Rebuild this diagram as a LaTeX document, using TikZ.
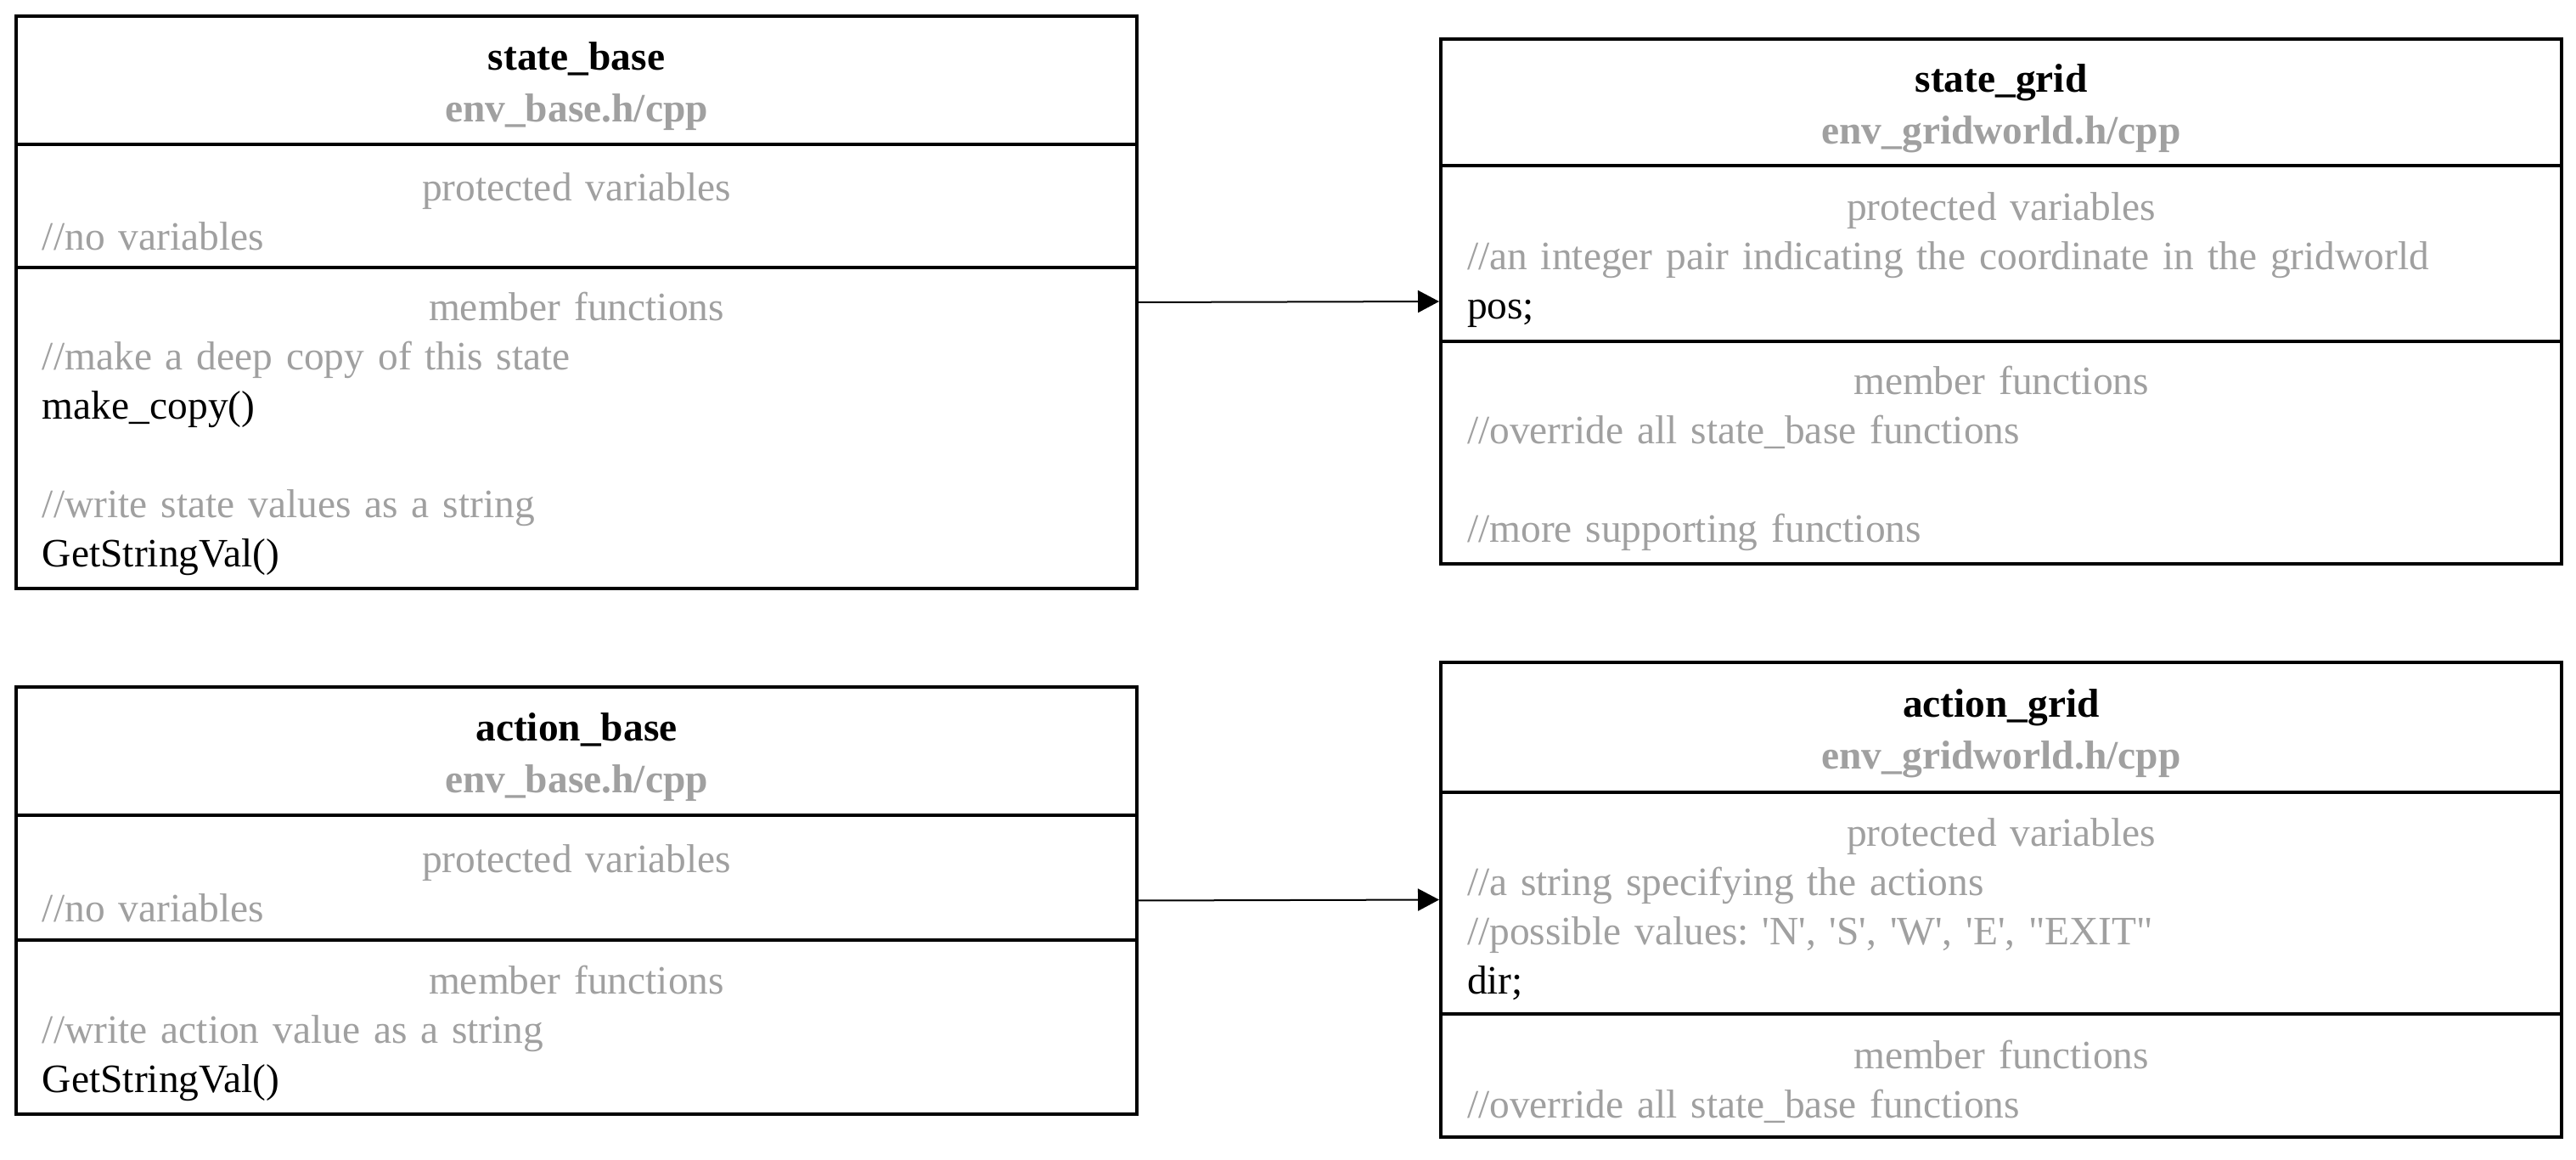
\documentclass[tikz,border=0pt]{standalone}
\usepackage{fontspec}
\setmainfont{Liberation Serif}[Ligatures=TeXOff]
\usepackage{xcolor}
\usepackage{tikz}
\usetikzlibrary{positioning,arrows.meta,fit}
\definecolor{txtGray}{RGB}{160,160,160}
\newcommand{\hdr}[1]{\makebox[\linewidth][c]{\color{txtGray}#1}}
\newcommand{\cmt}[1]{{\color{txtGray}#1}}
\frenchspacing

\begin{document}
\begin{tikzpicture}[
  ttl/.style={draw,line width=0.04cm,outer sep=0pt,minimum width=13.2cm,text width=12.58cm,inner xsep=0.31cm,align=center,font=\bfseries\fontsize{13.5}{17.5}\selectfont,execute at begin node={\rule{0pt}{13.5pt}}},
  sec/.style={draw,line width=0.04cm,outer sep=0pt,minimum width=13.2cm,text width=12.58cm,inner xsep=0.31cm,align=left,font=\fontsize{13.5}{16.5}\selectfont,execute at begin node={\rule{0pt}{13.5pt}}},
  cls/.style={inner sep=0pt,outer sep=0pt}]
\useasboundingbox (0,0) rectangle (30.34,-13.66);
% state_base
\node[ttl,minimum height=1.51cm,anchor=north west] (sbTtl) at (0.19,-0.19) {state\_base\\\textcolor{txtGray}{env\_base.h/cpp}};
\node[sec,minimum height=1.45cm,below=0pt of sbTtl] (sbVar) {\hdr{protected variables}\\\cmt{//no variables}};
\node[sec,minimum height=3.78cm,below=0pt of sbVar] (sbFun) {\hdr{member functions}\\\cmt{//make a deep copy of this state}\\make\_copy()\\~\\\cmt{//write state values as a string}\\GetStringVal()};
\node[cls,fit=(sbTtl)(sbFun)] (sbase) {};
% state_grid
\node[ttl,minimum height=1.49cm,anchor=north west] (sgTtl) at (16.97,-0.46) {state\_grid\\\textcolor{txtGray}{env\_gridworld.h/cpp}};
\node[sec,minimum height=2.07cm,below=0pt of sgTtl] (sgVar) {\hdr{protected variables}\\\cmt{//an integer pair indicating the coordinate in the gridworld}\\pos;};
\node[sec,minimum height=2.62cm,below=0pt of sgVar] (sgFun) {\hdr{member functions}\\\cmt{//override all state\_base functions}\\~\\\cmt{//more supporting functions}};
\node[cls,fit=(sgTtl)(sgFun)] (sgrid) {};
% action_base
\node[ttl,minimum height=1.51cm,anchor=north west] (abTtl) at (0.19,-8.09) {action\_base\\\textcolor{txtGray}{env\_base.h/cpp}};
\node[sec,minimum height=1.47cm,below=0pt of abTtl] (abVar) {\hdr{protected variables}\\\cmt{//no variables}};
\node[sec,minimum height=2.05cm,below=0pt of abVar] (abFun) {\hdr{member functions}\\\cmt{//write action value as a string}\\GetStringVal()};
\node[cls,fit=(abTtl)(abFun)] (abase) {};
% action_grid
\node[ttl,minimum height=1.53cm,anchor=north west] (agTtl) at (16.97,-7.80) {action\_grid\\\textcolor{txtGray}{env\_gridworld.h/cpp}};
\node[sec,minimum height=2.61cm,below=0pt of agTtl] (agVar) {\hdr{protected variables}\\\cmt{//a string specifying the actions}\\\cmt{//possible values: 'N', 'S', 'W', 'E', "EXIT"}\\dir;};
\node[sec,minimum height=1.45cm,below=0pt of agVar] (agFun) {\hdr{member functions}\\\cmt{//override all state\_base functions}};
\node[cls,fit=(agTtl)(agFun)] (agrid) {};
\draw[-{Triangle[length=0.25cm,width=0.26cm]},line width=0.02cm,shorten >=0.02cm] (sbase.east) -- (sgrid.west);
\draw[-{Triangle[length=0.25cm,width=0.26cm]},line width=0.02cm,shorten >=0.02cm] (abase.east) -- (agrid.west);
\end{tikzpicture}
\end{document}
